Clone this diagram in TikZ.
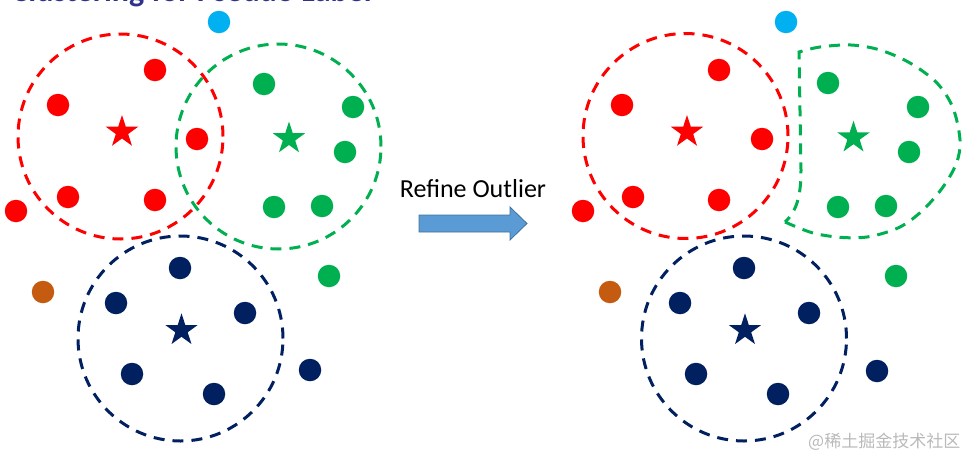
\documentclass[tikz,border=0pt]{standalone}
\usepackage{fontspec}
\setmainfont{Carlito}
\newfontfamily\cjkfont{Noto Sans CJK SC}
\usetikzlibrary{shapes.geometric}
\definecolor{cRed}{RGB}{255,0,0}
\definecolor{cGreen}{RGB}{0,176,80}
\definecolor{cNavy}{RGB}{0,32,96}
\definecolor{cCyan}{RGB}{0,176,240}
\definecolor{cBrown}{RGB}{197,90,17}
\definecolor{cArrowFill}{RGB}{91,155,213}
\definecolor{cArrowLine}{RGB}{65,113,156}
\definecolor{cTitle}{RGB}{47,50,140}
\definecolor{cMark}{RGB}{185,185,185}
\begin{document}
\begin{tikzpicture}[x=1pt,y=-1pt,
  dot/.style={circle,inner sep=0pt,minimum size=22.5pt},
  centroid/.style={star,star points=5,star point ratio=2.618,inner sep=0pt,minimum size=34pt},
  dashline/.style={line width=3pt,dash pattern=on 11pt off 8pt},
  cluster/.style={circle,draw,inner sep=0pt,minimum size=205pt,dashline},
]
\useasboundingbox (0,0) rectangle (974,458);

% title (cut off at top)
\begin{scope}
\clip (0,0) rectangle (974,458);
\node[anchor=base east,inner sep=0pt,text=cTitle,font=\fontsize{32}{36}\selectfont\bfseries] (title) at (372,1.5) {Clustering for Pseudo Label};
\end{scope}

% ---------------- left panel ----------------
\node[cluster,cRed]   (LcR) at (120.5,136.5) {};
\node[cluster,cGreen] (LcG) at (278.5,146.5) {};
\node[cluster,cNavy]  (LcN) at (180.5,338.5) {};

\node[dot,fill=cRed] (Lr1) at (155,70) {};
\node[dot,fill=cRed] (Lr2) at (58,105) {};
\node[dot,fill=cRed] (Lr3) at (197,139) {};
\node[dot,fill=cRed] (Lr4) at (68,197) {};
\node[dot,fill=cRed] (Lr5) at (155,200) {};
\node[dot,fill=cRed] (Lr6) at (16,211) {};
\node[centroid,fill=cRed] (LsR) at (122,132) {};

\node[dot,fill=cGreen] (Lg1) at (264,84) {};
\node[dot,fill=cGreen] (Lg2) at (353,107) {};
\node[dot,fill=cGreen] (Lg3) at (345,152) {};
\node[dot,fill=cGreen] (Lg4) at (274,207) {};
\node[dot,fill=cGreen] (Lg5) at (322,206) {};
\node[dot,fill=cGreen] (Lg6) at (329,276) {};
\node[centroid,fill=cGreen] (LsG) at (289,138.5) {};

\node[dot,fill=cNavy] (Ln1) at (180,268) {};
\node[dot,fill=cNavy] (Ln2) at (116,303) {};
\node[dot,fill=cNavy] (Ln3) at (245,313) {};
\node[dot,fill=cNavy] (Ln4) at (132,374) {};
\node[dot,fill=cNavy] (Ln5) at (214,394) {};
\node[dot,fill=cNavy] (Ln6) at (310,370) {};
\node[centroid,fill=cNavy] (LsN) at (181.5,330.3) {};

\node[dot,fill=cCyan]  (Lc) at (219,22) {};
\node[dot,fill=cBrown] (Lb) at (43,292) {};

% ---------------- arrow and label ----------------
\filldraw[fill=cArrowFill,draw=cArrowLine,line width=0.8pt]
  (419,215) -- (510,215) -- (510,207) -- (527,223.5) -- (510,240) -- (510,232) -- (419,232) -- cycle;
\node[anchor=base,inner sep=0pt,font=\fontsize{26}{30}\selectfont] (lbl) at (473,197) {Refine Outlier};

% ---------------- right panel ----------------
\node[cluster,cRed]  (RcR) at (685.5,136) {};
\node[cluster,cNavy] (RcN) at (744,338.5) {};
\draw[cGreen,dashline]
  plot[smooth,tension=0.55] coordinates {(785,222) (813,233) (843,237.5) (870,236.5) (900,227) (923,210) (943,187) (956.5,163) (960,140) (953,108) (937,83) (910,63) (880,50) (851,45) (820,47) (799,52)}
  -- (801,170) .. controls (801,195) and (797,211) .. (785,222);

\node[dot,fill=cRed] (Rr1) at (719,70) {};
\node[dot,fill=cRed] (Rr2) at (622,105) {};
\node[dot,fill=cRed] (Rr3) at (762,139) {};
\node[dot,fill=cRed] (Rr4) at (633,197) {};
\node[dot,fill=cRed] (Rr5) at (719,200) {};
\node[dot,fill=cRed] (Rr6) at (583,211) {};
\node[centroid,fill=cRed] (RsR) at (687,132) {};

\node[dot,fill=cGreen] (Rg1) at (828,83) {};
\node[dot,fill=cGreen] (Rg2) at (918,107) {};
\node[dot,fill=cGreen] (Rg3) at (909,152) {};
\node[dot,fill=cGreen] (Rg4) at (838,207) {};
\node[dot,fill=cGreen] (Rg5) at (886,206) {};
\node[dot,fill=cGreen] (Rg6) at (896,276) {};
\node[centroid,fill=cGreen] (RsG) at (853.5,137.7) {};

\node[dot,fill=cNavy] (Rn1) at (744,268) {};
\node[dot,fill=cNavy] (Rn2) at (680,303) {};
\node[dot,fill=cNavy] (Rn3) at (809,313) {};
\node[dot,fill=cNavy] (Rn4) at (696,374) {};
\node[dot,fill=cNavy] (Rn5) at (778,394) {};
\node[dot,fill=cNavy] (Rn6) at (877,371) {};
\node[centroid,fill=cNavy] (RsN) at (745,330.3) {};

\node[dot,fill=cCyan]  (Rc) at (786,22) {};
\node[dot,fill=cBrown] (Rb) at (610,292) {};

% watermark
\node[anchor=base west,inner sep=0pt,text=cMark,font=\cjkfont\fontsize{17}{20}\selectfont] (wm) at (808,447) {@稀土掘金技术社区};
\end{tikzpicture}
\end{document}
